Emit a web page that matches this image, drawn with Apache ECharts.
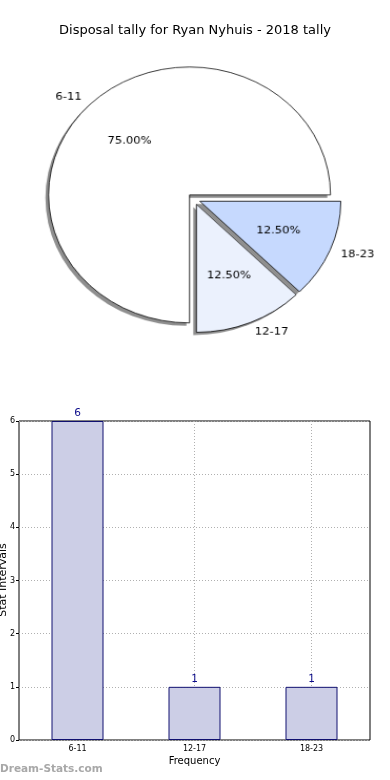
<!DOCTYPE html>
<html><head><meta charset="utf-8">
<script src="https://cdn.jsdelivr.net/npm/echarts@6/dist/echarts.min.js"></script>
<style>
html,body{margin:0;padding:0;background:#fff}
#wrap{position:relative;width:390px;height:780px;overflow:hidden}
#c{position:absolute;left:0;top:0;width:390px;height:780px}
#p{position:absolute;left:0;top:40px;width:390px;height:330px;transform-origin:194px 159px;transform:scale(1.052,0.955)}
</style>
</head><body><div id="wrap"><div id="c"></div><div id="p"></div></div>
<script>
const titleText = 'Disposal tally for Ryan Nyhuis - 2018 tally';
const pieCategories = ['6-11', '12-17', '18-23'];
const pieValues = [6, 1, 1];
const pieColors = ['#ffffff', '#ebf1fd', '#c6d9fe'];
const barCategories = ['6-11', '12-17', '18-23'];
const barValues = [6, 1, 1];
const yTicks = [0, 1, 2, 3, 4, 5, 6];
const xAxisName = 'Frequency';
const yAxisName = 'Stat Intervals';
const watermark = 'Dream-Stats.com';

const FONT = 'DejaVu Sans';
const chart = echarts.init(document.getElementById('c'), null, {renderer: 'canvas'});
const pie = echarts.init(document.getElementById('p'), null, {renderer: 'canvas'});

// pie drawn in its own layer, stretched by CSS into the reference's ellipse
const pieCenter = [194, 159];
const shadowCenter = [pieCenter[0] - 3, pieCenter[1] + 3];
const R = 134;
const pieData = pieCategories.map((n, i) => ({name: n, value: pieValues[i], selected: true,
  itemStyle: {color: pieColors[i]}}));
const pieDataT = pieCategories.map((n, i) => ({name: n, value: pieValues[i], selected: true}));

// hidden category axis with 7 slots to put vertical grid lines at bar centers
const gridXSlots = ['', barCategories[0], '', barCategories[1], '', barCategories[2], ''];

const pieCommon = {type: 'pie', startAngle: 0, clockwise: false, selectedMode: 'multiple',
  selectedOffset: 6, silent: true, avoidLabelOverlap: false, emphasis: {disabled: true}};

pie.setOption({
  animation: false,
  series: [
    Object.assign({}, pieCommon, {
      center: shadowCenter, radius: R, z: 1,
      data: pieDataT, itemStyle: {color: '#8f8f8f', borderWidth: 0},
      label: {show: false}, labelLine: {show: false}
    }),
    Object.assign({}, pieCommon, {
      center: pieCenter, radius: R, z: 2,
      data: pieData,
      itemStyle: {borderColor: '#000', borderWidth: 0.8},
      label: {show: true, position: 'outside', formatter: '{b}', fontFamily: FONT, fontSize: 11, color: '#000',
        distanceToLabelLine: 0},
      labelLine: {show: false, length: 11, length2: 0}
    }),
    Object.assign({}, pieCommon, {
      center: pieCenter, radius: R * 1.16, z: 3,
      data: pieDataT,
      itemStyle: {color: 'rgba(0,0,0,0)', borderWidth: 0},
      label: {show: true, position: 'inside', formatter: (p) => p.percent.toFixed(2) + '%',
        fontFamily: FONT, fontSize: 11, color: '#000'},
      labelLine: {show: false}
    })
  ]
});

chart.setOption({
  animation: false,
  title: {text: titleText, left: 'center', top: 19,
    textStyle: {fontFamily: FONT, fontSize: 13, fontWeight: 'normal', color: '#000'}},
  graphic: [
    {type: 'text', left: 0, top: 764,
      style: {text: watermark, fontFamily: FONT, fontSize: 10.5, fontWeight: 'bold', fill: '#a8a8a8'}},
    {type: 'text', x: 3, y: 580, rotation: Math.PI / 2,
      style: {text: yAxisName, fontFamily: FONT, fontSize: 11, fill: '#000', align: 'center', verticalAlign: 'middle'}}
  ],
  grid: {left: 19, right: 20, top: 421, bottom: 40, show: true, borderColor: '#000', borderWidth: 1,
    outerBoundsMode: 'none', containLabel: false},
  xAxis: [{
    type: 'category', data: barCategories, position: 'bottom',
    name: xAxisName, nameLocation: 'middle', nameGap: 16,
    nameTextStyle: {fontFamily: FONT, fontSize: 10, color: '#000'},
    axisLine: {show: false}, axisTick: {show: false},
    axisLabel: {fontFamily: FONT, fontSize: 8, color: '#000', margin: 5},
    splitLine: {show: false}
  }, {
    type: 'category', data: gridXSlots, boundaryGap: false, position: 'bottom',
    axisLine: {show: false}, axisTick: {show: false}, axisLabel: {show: false},
    splitLine: {show: true, interval: (i) => i % 2 === 1,
      lineStyle: {type: [1, 2], color: '#b0b0b0', width: 1}}
  }],
  yAxis: {
    type: 'value', min: yTicks[0], max: yTicks[yTicks.length - 1], interval: 1,
    axisLine: {show: false},
    axisTick: {show: true, inside: false, length: 3, lineStyle: {color: '#000'}},
    axisLabel: {fontFamily: FONT, fontSize: 8, color: '#000', margin: 4},
    splitLine: {show: true, lineStyle: {type: [1, 2], color: '#b0b0b0', width: 1}}
  },
  series: [
    {
      type: 'bar', xAxisIndex: 0, data: barValues, barWidth: 52,
      itemStyle: {color: '#ccceE6', borderColor: '#101070', borderWidth: 1},
      label: {show: true, position: 'top', distance: 2, fontFamily: FONT, fontSize: 10.5, color: '#0b0b8a'},
      emphasis: {disabled: true}, z: 1
    }
  ]
});
</script></body></html>
